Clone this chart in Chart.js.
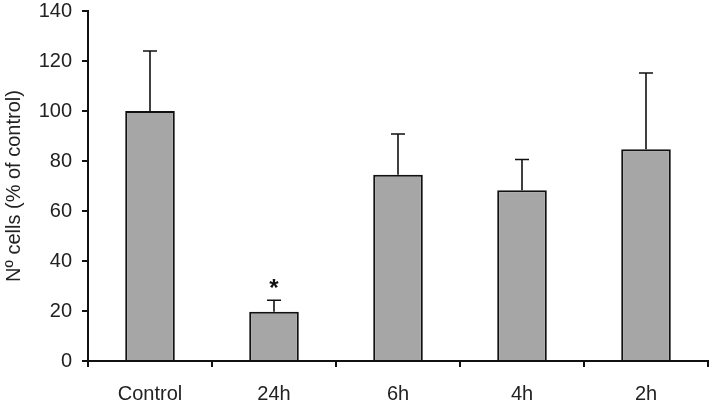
<!DOCTYPE html>
<html>
<head>
<meta charset="utf-8">
<script src="https://cdn.jsdelivr.net/npm/chart.js@4"></script>
<style>
  html, body { margin: 0; padding: 0; background: #fff; }
  #wrap { width: 713px; height: 404px; }
</style>
</head>
<body>
<div id="wrap"><canvas id="myChart"></canvas></div>
<script>
const groups = ["Control", "24h", "6h", "4h", "2h"];
const cells = [100, 19.7, 74.5, 68.3, 84.7];
const errUpper = [124, 24.3, 90.8, 80.6, 115.2];
const marks = ["", "*", "", "", ""];
const yTicks = [0, 20, 40, 60, 80, 100, 120, 140];

// upper error bars + significance star
const errorBars = {
    id: 'errorBars',
    afterDatasetsDraw(chart) {
        const ctx = chart.ctx;
        const x = chart.scales.x, y = chart.scales.y;
        ctx.save();
        ctx.strokeStyle = '#111';
        ctx.lineWidth = 1.6;
        for (let i = 0; i < groups.length; i++) {
            const cx = x.getPixelForValue(i);
            const top = y.getPixelForValue(errUpper[i]);
            const base = y.getPixelForValue(cells[i]);
            ctx.beginPath();
            ctx.moveTo(cx, base);
            ctx.lineTo(cx, top);
            ctx.moveTo(cx - 7, top);
            ctx.lineTo(cx + 7, top);
            ctx.stroke();
            if (marks[i]) {
                ctx.fillStyle = '#111';
                ctx.font = 'bold 24px "Liberation Sans"';
                ctx.textAlign = 'center';
                ctx.textBaseline = 'bottom';
                ctx.fillText(marks[i], cx, top + 1);
            }
        }
        ctx.restore();
    }
};

const config = {
    type: 'bar',
    data: {
        labels: groups,
        datasets: [{
            data: cells,
            backgroundColor: '#a6a6a6',
            borderColor: '#111',
            borderWidth: 2,
            categoryPercentage: 1,
            barPercentage: 0.4
        }]
    },
    options: {
        responsive: true,
        maintainAspectRatio: false,
        animation: false,
        layout: { padding: { top: 11, right: 5, left: 0, bottom: 0 } },
        plugins: {
            legend: { display: false },
            tooltip: { enabled: false }
        },
        scales: {
            x: {
                grid: { drawOnChartArea: false, drawTicks: true, tickLength: 6, color: '#111', lineWidth: 2 },
                border: { color: '#111', width: 2 },
                ticks: { color: '#222', font: { family: 'Liberation Sans', size: 20 }, padding: 15 },
                afterFit(scale) { scale.height = 43; }
            },
            y: {
                min: 0,
                max: 140,
                afterBuildTicks(scale) { scale.ticks = yTicks.map(v => ({ value: v })); },
                grid: { drawOnChartArea: false, drawTicks: true, tickLength: 6, color: '#111', lineWidth: 2 },
                border: { color: '#111', width: 2 },
                ticks: { color: '#222', font: { family: 'Liberation Sans', size: 20 }, padding: 10 },
                title: {
                    display: true,
                    text: 'Nº cells (% of control)',
                    color: '#222',
                    font: { family: 'Liberation Sans', size: 20 },
                    padding: { top: 2, bottom: 4 }
                },
                afterFit(scale) {
                    scale.width = 88;
                    scale.paddingTop = 0;
                    scale.paddingBottom = 0;
                }
            }
        }
    },
    plugins: [errorBars]
};

const myChart = new Chart(document.getElementById('myChart'), config);
</script>
</body>
</html>
